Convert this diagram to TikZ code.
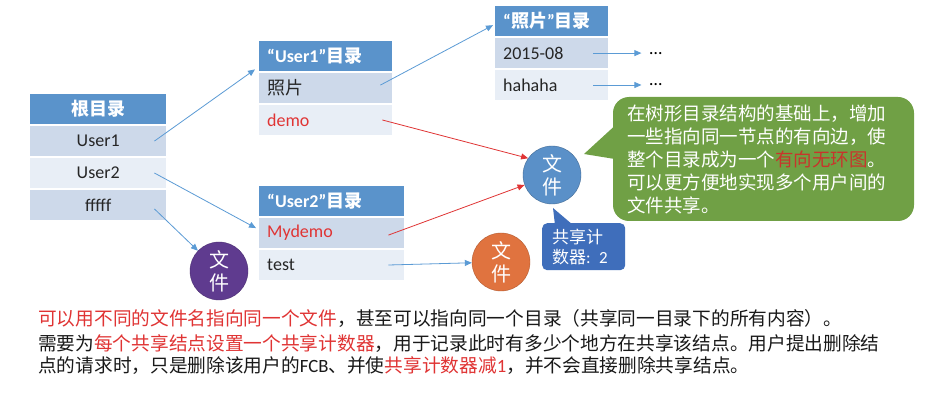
\documentclass[tikz,border=0pt]{standalone}
\usepackage{fontspec}
\setmainfont{Carlito}
\newfontfamily\cjk{Noto Sans CJK SC}
\usetikzlibrary{positioning, arrows.meta}

\definecolor{hdrblue}{HTML}{5A93CB}
\definecolor{rowdark}{HTML}{CDD9EA}
\definecolor{rowlight}{HTML}{E8EEF6}
\definecolor{arrowblue}{HTML}{5B9BD5}
\definecolor{txtred}{HTML}{E03434}
\definecolor{darkred}{HTML}{C8352C}
\definecolor{filepurple}{HTML}{5F3B8F}
\definecolor{fileblue}{HTML}{5A90C8}
\definecolor{fileorange}{HTML}{E0733F}
\definecolor{notegreen}{HTML}{70A045}
\definecolor{countblue}{HTML}{3F6EBB}

\newcommand{\hz}[1]{{\cjk #1}}

\tikzstyle{hdr} = [rectangle,
minimum height=30pt,
inner xsep=8pt,
fill=hdrblue,
text=white,
font=\bfseries\fontsize{18}{20}\selectfont]
\tikzstyle{rowa} = [rectangle,
minimum height=30pt,
inner xsep=8pt,
fill=rowdark,
text=black!85,
font=\fontsize{18}{20}\selectfont]
\tikzstyle{rowb} = [rowa, fill=rowlight]
\tikzstyle{file} = [circle,
minimum size=58pt,
inner sep=0pt,
align=center,
text=white,
font=\cjk\fontsize{20}{23}\selectfont]
\tikzstyle{dots} = [inner xsep=8pt, inner ysep=2pt, font=\fontsize{18}{20}\selectfont]
\tikzstyle{note} = [rectangle, rounded corners=16pt,
minimum width=301pt,
minimum height=124pt,
text width=273pt,
inner xsep=14pt,
align=left,
fill=notegreen,
text=white,
font=\cjk\fontsize{18.5}{23}\selectfont]
\tikzstyle{counter} = [rectangle, rounded corners=5pt,
minimum height=47pt,
text width=63pt,
inner xsep=10pt,
align=left,
fill=countblue,
text=white,
font=\fontsize{17}{20}\selectfont]
\tikzstyle{arrow} = [line width=0.8pt, arrowblue, -{Triangle[length=7pt, width=6pt]}]
\tikzstyle{redarrow} = [line width=0.8pt, txtred, -{Triangle[length=7pt, width=6pt]}]

\begin{document}
\begin{tikzpicture}[x=1pt, y=-1pt, node distance=1.5pt]
    \fill[white] (0,0) rectangle (935,406);
    \useasboundingbox (0,0) rectangle (935,406);

    % root directory
    \node (root) [hdr, text width=120pt, align=center, anchor=north west] at (30,94) {\hz{根目录}};
    \node (user1) [rowa, text width=120pt, align=center, below=of root] {User1};
    \node (user2) [rowb, text width=120pt, align=center, below=of user1] {User2};
    \node (fffff) [rowa, text width=120pt, align=center, below=of user2] {fffff};

    % User1 directory
    \node (dirA) [hdr, text width=117pt, anchor=north west] at (259,41) {“User1”\hz{目录}};
    \node (photo) [rowa, text width=117pt, below=of dirA] {\hz{照片}};
    \node (demo) [rowb, text width=117pt, below=of photo, text=txtred] {demo};

    % photo directory
    \node (dirP) [hdr, text width=97pt, anchor=north west] at (495,6) {“\hz{照片}”\hz{目录}};
    \node (p1) [rowa, text width=97pt, below=of dirP] {2015-08};
    \node (p2) [rowb, text width=97pt, below=of p1] {hahaha};
    \node (dots1) [dots, right=33pt of p1] {…};
    \node (dots2) [dots, right=33pt of p2] {…};

    % User2 directory
    \node (dirB) [hdr, text width=129pt, anchor=north west] at (259,186) {“User2”\hz{目录}};
    \node (mydemo) [rowa, text width=129pt, below=of dirB, text=txtred] {Mydemo};
    \node (test) [rowb, text width=129pt, below=of mydemo] {test};

    % files
    \node (fileP) [file, fill=filepurple, draw=filepurple!80!black] at (219,271) {文\\件};
    \node (fileB) [file, fill=fileblue, draw=fileblue!75!black] at (552,175) {文\\件};
    \node (fileO) [file, fill=fileorange, draw=fileorange!80!black] at (501,262) {文\\件};

    % callouts
    \node (note) [note] at (763.5,159) {在树形目录结构的基础上，增加\\一些指向同一节点的有向边，使\\整个目录成为一个\textcolor{darkred}{有向无环图}。\\可以更方便地实现多个用户间的\\文件共享。};
    \coordinate (noteTip) at (584,154);
    \fill[notegreen] (noteTip) -- ([xshift=2pt, yshift=-29pt]note.north west) -- ([xshift=2pt]note.west) -- cycle;

    \node (count) [counter, anchor=north west] at (542,223) {\hz{共享计}\\\hz{数器}: 2};
    \coordinate (countTip) at (553,208);
    \fill[countblue] (countTip) -- ([xshift=13pt, yshift=-2pt]count.north west) -- ([xshift=31pt, yshift=-2pt]count.north west) -- cycle;

    % links
    \draw [arrow] ([xshift=-12pt]user1.east) -- ([xshift=-4pt, yshift=2pt]dirA.south west);
    \draw [arrow] ([xshift=-12pt]user2.east) -- ([xshift=-3pt, yshift=5pt]mydemo.west);
    \draw [arrow] ([xshift=-12pt, yshift=-4pt]fffff.east) -- (fileP);
    \draw [arrow] ([xshift=-12pt, yshift=3pt]photo.east) -- ([xshift=-2pt, yshift=-4pt]dirP.west);
    \draw [arrow] ([xshift=-15pt]p1.east) -- (dots1);
    \draw [arrow] ([xshift=-15pt]p2.east) -- (dots2);
    \draw [redarrow] ([xshift=-10pt]demo.east) -- (fileB.145);
    \draw [redarrow] ([xshift=-16pt, yshift=-2pt]mydemo.east) -- (fileB.200);
    \draw [arrow] ([xshift=-16pt]test.east) -- (fileO);

    % remark
    \node (remark) [anchor=north west, align=left, inner sep=0pt, text=black!90, font=\cjk\fontsize{18.7}{22.5}\selectfont] at (38,309) {\textcolor{txtred}{可以用不同的文件名指向同一个文件}，甚至可以指向同一个目录（共享同一目录下的所有内容）。\\[2.5pt]
    需要为\textcolor{txtred}{每个共享结点设置一个共享计数器}，用于记录此时有多少个地方在共享该结点。用户提出删除结\\
    点的请求时，只是删除该用户的{\rmfamily FCB}、并使\textcolor{txtred}{共享计数器减{\rmfamily 1}}，并不会直接删除共享结点。};
\end{tikzpicture}
\end{document}
